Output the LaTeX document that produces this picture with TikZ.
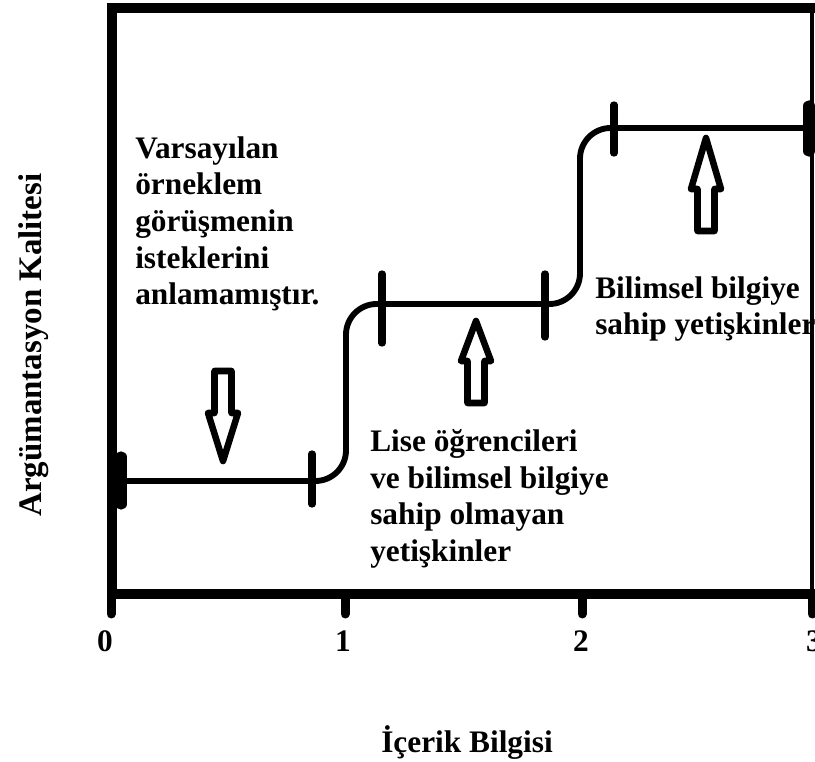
\documentclass[tikz,border=0pt]{standalone}
\usepackage{fontspec}
\setmainfont{Liberation Serif}
\usetikzlibrary{positioning}

\begin{document}
\begin{tikzpicture}[x=0.75pt, y=-0.75pt, line cap=round,
  lbl/.style={font=\fontsize{23.5}{27.5}\selectfont\bfseries, align=left, inner sep=0pt, anchor=north west},
  num/.style={font=\fontsize{23.5}{27.5}\selectfont\bfseries, inner sep=0pt, anchor=base},
  frame/.style={line width=7pt, line cap=butt, line join=miter},
  stepline/.style={line width=4.4pt, rounded corners=23pt},
  bar/.style={line width=5.5pt},
  hollow/.style={draw, line width=4.9pt, fill=white, line join=round}]
  \useasboundingbox (0,0) rectangle (815,762);
  % frame and axis
  \draw[frame] (815,8) -- (112,8) -- (112,594) -- (815,594);
  \draw[line width=3.5pt, line cap=butt] (812,3) -- (812,599);
  \foreach \x in {111,345,582,812}
    \draw[line width=6.75pt] (\x,596) -- (\x,614);
  \node[num] (n0) at (105,652) {0};
  \node[num] (n1) at (343,652) {1};
  \node[num] (n2) at (581,652) {2};
  \node[num] (n3) at (814,652) {3};
  \node[num] (xlabel) at (467,753) {İçerik Bilgisi};
  \node[num, font=\fontsize{24.7}{28}\selectfont\bfseries, rotate=90] (ylabel) at (41,345) {Argümantasyon Kalitesi};
  % step curve
  \coordinate (s0) at (118,481);
  \coordinate (s5) at (810,128);
  \draw[stepline] (s0) -- (346,481) -- (346,304) -- (580,304) -- (580,128) -- (s5);
  \draw[line width=8.5pt] (121,457) -- (121,504);
  \draw[line width=8.5pt] (809,106) -- (809,151);
  \foreach \x/\t/\b in {312/454/504, 382/274/343, 545/274/337, 614/105/153}
    \draw[bar] (\x,\t) -- (\x,\b);
  % hollow arrows
  \foreach \x/\t/\h/\b in {223/461/413/371, 476/321/361/403, 706/138/189/231}
    \draw[hollow] (\x,\t) -- (\x+15,\h) -- (\x+8.5,\h) -- (\x+8.5,\b)
      -- (\x-8.5,\b) -- (\x-8.5,\h) -- (\x-15,\h) -- cycle;
  % texts
  \node[lbl] (sampletxt) at (135,136) {Varsayılan\\örneklem\\görüşmenin\\isteklerini\\anlamamıştır.};
  \node[lbl] (studenttxt) at (370,429) {Lise öğrencileri\\ve bilimsel bilgiye\\sahip olmayan\\yetişkinler};
  \node[lbl] (adulttxt) at (595,276) {Bilimsel bilgiye\\sahip yetişkinler};
\end{tikzpicture}
\end{document}
